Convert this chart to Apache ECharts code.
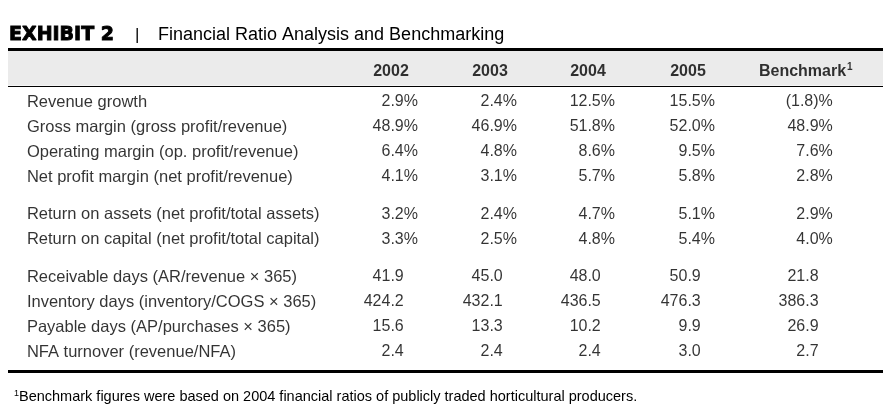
<!DOCTYPE html>
<html>
<head>
<meta charset="utf-8">
<script src="https://cdn.jsdelivr.net/npm/echarts@6/dist/echarts.min.js"></script>
<style>html,body{margin:0;padding:0;background:#fff;}#c{width:894px;height:418px;}</style>
</head>
<body>
<div id="c"></div>
<script>
// ---- data ----
const headers = ['2002', '2003', '2004', '2005', 'Benchmark'];
const rowLabels = [
  'Revenue growth',
  'Gross margin (gross profit/revenue)',
  'Operating margin (op. profit/revenue)',
  'Net profit margin (net profit/revenue)',
  'Return on assets (net profit/total assets)',
  'Return on capital (net profit/total capital)',
  'Receivable days (AR/revenue \u00d7 365)',
  'Inventory days (inventory/COGS \u00d7 365)',
  'Payable days (AP/purchases \u00d7 365)',
  'NFA turnover (revenue/NFA)'
];
const rowGroup = [0, 0, 0, 0, 1, 1, 2, 2, 2, 2];
const isPercent = [true, true, true, true, true, true, false, false, false, false];
const v2002 = [2.9, 48.9, 6.4, 4.1, 3.2, 3.3, 41.9, 424.2, 15.6, 2.4];
const v2003 = [2.4, 46.9, 4.8, 3.1, 2.4, 2.5, 45.0, 432.1, 13.3, 2.4];
const v2004 = [12.5, 51.8, 8.6, 5.7, 4.7, 4.8, 48.0, 436.5, 10.2, 2.4];
const v2005 = [15.5, 52.0, 9.5, 5.8, 5.1, 5.4, 50.9, 476.3, 9.9, 3.0];
const vBench = [-1.8, 48.9, 7.6, 2.8, 2.9, 4.0, 21.8, 386.3, 26.9, 2.7];
const titleBold = 'EXHIBIT 2';
const titleText = 'Financial Ratio Analysis and Benchmarking';
const footnote = 'Benchmark figures were based on 2004 financial ratios of publicly traded horticultural producers.';

// ---- layout ----
const columns = [v2002, v2003, v2004, v2005, vBench];
const colX = [0, 1, 1.99, 3.0, 4.19];
const labelX = -3.95;
const headerY = -1.22;
const rowY = rowLabels.map((_, i) => i + 0.5 * rowGroup[i]);
const FONT = '"Liberation Sans", Arial, Helvetica, sans-serif';
const INK = '#000';

function fmt(v, pct) {
  const s = Math.abs(v).toFixed(1);
  if (pct) return v < 0 ? '(' + s + ')%' : s + '%';
  return s + '{h|%}';
}

const cellData = [];
columns.forEach((col, c) => {
  col.forEach((v, r) => {
    cellData.push({ value: [colX[c], rowY[r]], text: fmt(v, isPercent[r]) });
  });
});
const labelData = rowLabels.map((t, r) => ({ value: [labelX, rowY[r]], text: t }));
const headerData = headers.map((h, c) => ({ value: [colX[c], headerY], text: h }));

const chart = echarts.init(document.getElementById('c'), null, { renderer: 'canvas' });
chart.setOption({
  backgroundColor: '#fff',
  animation: false,
  title: [{
    text: '{a|' + titleBold + '}{b||}{c|' + titleText + '}',
    left: 4, top: 21,
    textStyle: {
      fontWeight: 'normal',
      rich: {
        a: { fontFamily: '"DejaVu Sans", sans-serif', fontWeight: 'bold', fontSize: 19, color: '#000',
             textBorderColor: '#000', textBorderWidth: 0.9, width: 126 },
        b: { fontFamily: FONT, fontWeight: 'normal', fontSize: 17, color: '#000', width: 23 },
        c: { fontFamily: FONT, fontWeight: 'normal', fontSize: 18, color: INK }
      }
    }
  }, {
    text: '{s|1}{t|' + footnote + '}',
    left: 9, top: 384,
    textStyle: {
      fontWeight: 'normal',
      rich: {
        s: { fontFamily: FONT, fontWeight: 'normal', fontSize: 9, color: INK, padding: [0, 0, 7, 0] },
        t: { fontFamily: FONT, fontWeight: 'normal', fontSize: 14.5, color: INK }
      }
    }
  }],
  grid: { left: 8, right: 11, top: 40, bottom: 40 },
  xAxis: { type: 'value', min: -4.141, max: 4.697, show: false },
  yAxis: { type: 'value', inverse: true, min: -2.48, max: 11.04, show: false },
  series: [{
    type: 'scatter',
    symbolSize: 0,
    data: cellData,
    silent: true,
    label: {
      show: true, position: [0, 0], align: 'right', verticalAlign: 'middle',
      fontFamily: FONT, fontSize: 16, color: INK,
      formatter: p => p.data.text,
      rich: { h: { fontFamily: FONT, fontSize: 16, color: 'rgba(0,0,0,0)' } }
    },
    markArea: {
      silent: true,
      itemStyle: { color: '#ebebeb' },
      data: [[{ yAxis: -2.08 }, { yAxis: -0.66 }]]
    },
    markLine: {
      silent: true, symbol: 'none', label: { show: false },
      data: [
        { yAxis: -2.12, lineStyle: { width: 3, color: '#000', type: 'solid' } },
        { yAxis: -0.62, lineStyle: { width: 1.2, color: '#000', type: 'solid' } },
        { yAxis: 10.76, lineStyle: { width: 3, color: '#000', type: 'solid' } }
      ]
    }
  }, {
    type: 'scatter',
    symbolSize: 0,
    data: labelData,
    silent: true,
    label: {
      show: true, position: [0, 0], align: 'left', verticalAlign: 'middle',
      fontFamily: FONT, fontSize: 16.5, color: INK,
      formatter: p => p.data.text
    }
  }, {
    type: 'scatter',
    symbolSize: 0,
    data: headerData,
    silent: true,
    z: 5,
    label: {
      show: true, position: [-27, 0], align: 'center', verticalAlign: 'middle',
      fontFamily: FONT, fontSize: 16, fontWeight: 'bold', color: INK,
      formatter: p => p.data.text === 'Benchmark' ? '{b|Benchmark}{s|1}' : p.data.text,
      rich: {
        b: { fontFamily: FONT, fontSize: 16, fontWeight: 'bold', color: INK },
        s: { fontFamily: FONT, fontSize: 10, fontWeight: 'bold', color: INK, padding: [0, 0, 8, 1] }
      }
    }
  }]
});
</script>
</body>
</html>
